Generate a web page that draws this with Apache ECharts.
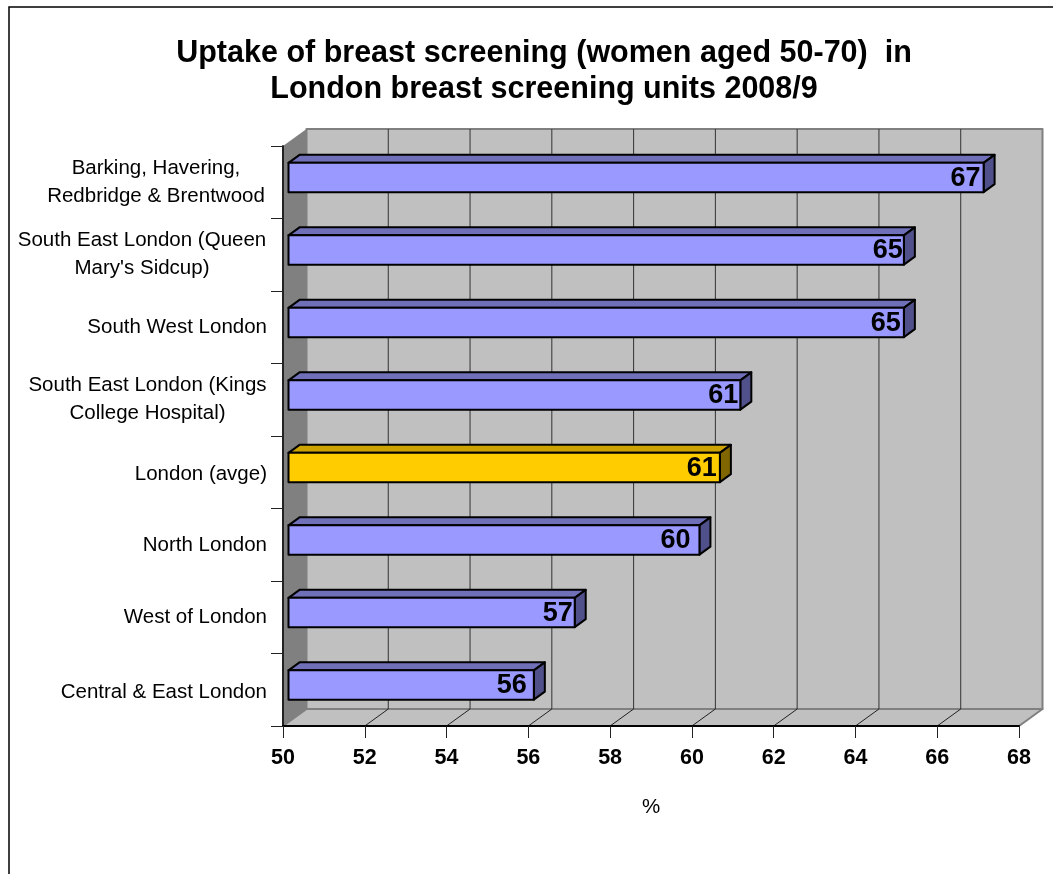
<!DOCTYPE html>
<html>
<head>
<meta charset="utf-8">
<title>Uptake of breast screening</title>
<style>
  html, body { margin: 0; padding: 0; background: #fff; }
  #chart { width: 1053px; height: 874px; }
</style>
<script src="https://cdn.jsdelivr.net/npm/echarts@6/dist/echarts.min.js"></script>
</head>
<body>
<div id="chart"></div>
<script>
  var categories = [
    'Barking, Havering,\nRedbridge & Brentwood',
    'South East London (Queen\nMary\'s Sidcup)',
    'South West London',
    'South East London (Kings\nCollege Hospital)',
    'London (avge)',
    'North London',
    'West of London',
    'Central & East London'
  ]
  var uptake = [67, 65.05, 65.05, 61.05, 60.55, 60.05, 57, 56]
  var xTicks = [50, 52, 54, 56, 58, 60, 62, 64, 66, 68]
  var chartTitle = 'Uptake of breast screening (women aged 50-70)  in\nLondon breast screening units 2008/9'
  var highlighted = 'London (avge)'

  var font = '"Liberation Sans", Arial, sans-serif'
  // fake 3d offsets, in pixels
  var wallDepth = [23.5, -17]
  var barDepth = [11, -8]
  var barShift = [5.5, -4.75]
  var barHeight = 29.3
  // wrapped labels are centred lines inside a right aligned block
  var labelBlock = [222, 250, null, 239, null, null, null, null]
  var labelDrop = [0, 0, 0, 0, 4, 2, 0, 6]
  var valueNudge = [0, 2, 0, 1, 0, -6, 1, -4]

  var labelRich = {}
  labelBlock.forEach(function (w, i) {
    labelRich['l' + i] = {
      fontFamily: font, fontSize: 20.5, color: '#000', lineHeight: 28,
      padding: [labelDrop[i], 0, 0, 0]
    }
    if (w) {
      labelRich['l' + i].width = w
      labelRich['l' + i].align = 'center'
    }
  })

  function poly (points, fill, stroke, lineWidth) {
    return {
      type: 'polygon',
      shape: { points: points },
      style: { fill: fill, stroke: stroke || null, lineWidth: lineWidth || 0, lineJoin: 'round' }
    }
  }

  function line (a, b, color, width) {
    return {
      type: 'line',
      shape: { x1: a[0], y1: a[1], x2: b[0], y2: b[1] },
      style: { stroke: color, lineWidth: width }
    }
  }

  function renderBackdrop (params, api) {
    var g = params.coordSys
    var dx = wallDepth[0]
    var dy = wallDepth[1]
    var left = g.x
    var right = g.x + g.width
    var top = g.y
    var bottom = g.y + g.height
    var children = [
      poly([[left + dx, top + dy], [right + dx, top + dy], [right + dx, bottom + dy], [left + dx, bottom + dy]], '#c0c0c0', '#808080', 2),
      poly([[left, bottom], [right, bottom], [right + dx, bottom + dy], [left + dx, bottom + dy]], '#c0c0c0', '#808080', 2),
      poly([[left, top], [left + dx, top + dy], [left + dx, bottom + dy], [left, bottom]], '#808080')
    ]
    xTicks.forEach(function (t) {
      var x = api.coord([t, 0])[0]
      if (t !== xTicks[0] && t !== xTicks[xTicks.length - 1]) {
        children.push(line([x + dx, top + dy], [x + dx, bottom + dy], '#333', 1))
        children.push(line([x, bottom], [x + dx, bottom + dy], '#222', 1))
      }
    })
    return { type: 'group', children: children }
  }

  function renderBar (params, api) {
    var value = api.value(0)
    var idx = api.value(1)
    var start = api.coord([xTicks[0], idx])
    var end = api.coord([value, idx])
    var x0 = start[0] + barShift[0]
    var x1 = end[0] + barShift[0]
    var y0 = end[1] + barShift[1] - barHeight / 2
    var y1 = y0 + barHeight
    var dx = barDepth[0]
    var dy = barDepth[1]
    var hot = categories[idx] === highlighted
    return {
      type: 'group',
      children: [
        poly([[x0, y0], [x0 + dx, y0 + dy], [x1 + dx, y0 + dy], [x1, y0]], hot ? '#cca300' : '#7070b8', '#000', 2),
        poly([[x1, y0], [x1 + dx, y0 + dy], [x1 + dx, y1 + dy], [x1, y1]], hot ? '#806600' : '#50508a', '#000', 2),
        poly([[x0, y0], [x1, y0], [x1, y1], [x0, y1]], hot ? '#ffcc00' : '#9999ff', '#000', 2),
        {
          type: 'text',
          style: {
            x: x1 - 3 + valueNudge[idx],
            y: (y0 + y1) / 2 + 1,
            text: String(Math.round(value)),
            fill: '#000',
            align: 'right',
            verticalAlign: 'middle',
            font: 'bold 27px ' + font
          }
        }
      ]
    }
  }

  var myChart = echarts.init(document.getElementById('chart'), null, { renderer: 'canvas' })
  myChart.setOption({
    animation: false,
    backgroundColor: '#fff',
    title: {
      text: chartTitle,
      left: 539,
      top: 31,
      textAlign: 'center',
      textStyle: { fontFamily: font, fontSize: 30.5, fontWeight: 'bold', color: '#000', lineHeight: 36 }
    },
    graphic: [{
      type: 'rect',
      shape: { x: 9, y: 7, width: 1100, height: 900 },
      style: { fill: null, stroke: '#000', lineWidth: 1.5 },
      silent: true
    }],
    grid: { left: 283, top: 146, width: 736, height: 580, containLabel: false },
    xAxis: {
      type: 'value',
      min: 50,
      max: 68,
      interval: 2,
      z: 10,
      name: '%',
      nameLocation: 'middle',
      nameGap: 71,
      nameTextStyle: { fontFamily: font, fontSize: 20.5, color: '#000' },
      axisLine: { show: true, lineStyle: { color: '#000', width: 2 } },
      axisTick: { show: true, length: 12, lineStyle: { color: '#222', width: 1 } },
      axisLabel: { fontFamily: font, fontSize: 21.5, fontWeight: 'bold', color: '#000', margin: 21 },
      splitLine: { show: false }
    },
    yAxis: {
      type: 'category',
      inverse: true,
      data: categories,
      z: 10,
      axisLine: { show: true, lineStyle: { color: '#222', width: 2 } },
      axisTick: { show: true, length: 12, alignWithLabel: false, lineStyle: { color: '#222', width: 1 } },
      axisLabel: {
        interval: 0,
        margin: 16,
        fontFamily: font,
        fontSize: 20.5,
        color: '#000',
        rich: labelRich,
        formatter: function (value, i) {
          return value.split('\n').map(function (s) {
            return '{l' + i + '|' + s + '}'
          }).join('\n')
        }
      },
      splitLine: { show: false }
    },
    series: [
      {
        name: 'backdrop',
        type: 'custom',
        coordinateSystem: 'cartesian2d',
        clip: false,
        silent: true,
        z: 1,
        data: [[xTicks[0], 0]],
        encode: { x: 0, y: 1 },
        renderItem: renderBackdrop
      },
      {
        name: 'Uptake',
        type: 'custom',
        coordinateSystem: 'cartesian2d',
        clip: false,
        z: 2,
        data: uptake.map(function (v, i) { return [v, i] }),
        encode: { x: 0, y: 1 },
        renderItem: renderBar
      }
    ]
  })
</script>
</body>
</html>
